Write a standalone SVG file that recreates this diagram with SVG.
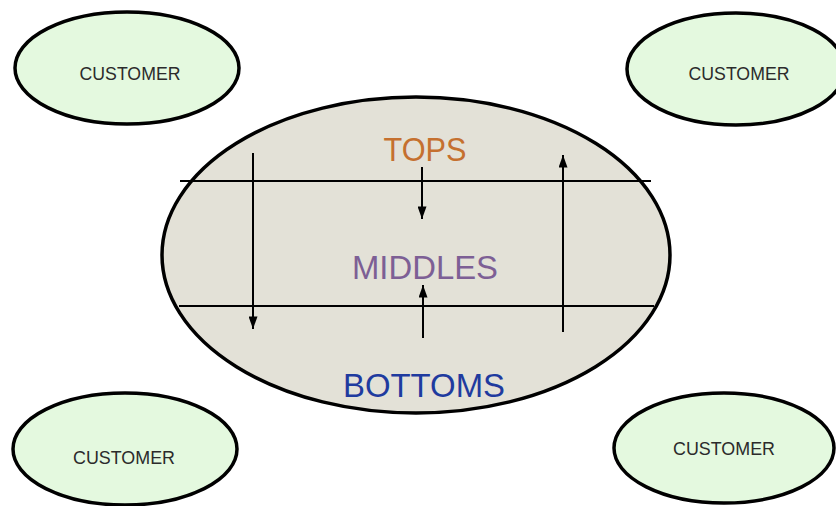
<svg xmlns="http://www.w3.org/2000/svg" width="836" height="506" viewBox="0 0 836 506">
<style>
.cust{fill:#e4f9df;stroke:#000;stroke-width:3.5}
.ctext{font-family:"Liberation Sans",Arial,sans-serif;font-size:18px;fill:#2b2b2b;text-anchor:middle}
.big{font-family:"Liberation Sans",Arial,sans-serif;font-size:33px;text-anchor:middle}
.ln{stroke:#000;stroke-width:2;fill:none}
</style>
<defs>
<marker id="ah" viewBox="0 0 14 10" refX="14" refY="5" markerWidth="13" markerHeight="9" markerUnits="userSpaceOnUse" orient="auto">
<path d="M0,0 L14,5 L0,10 z" fill="#000"/>
</marker>
</defs>
<rect width="836" height="506" fill="#fff"/>
<g id="org">
<ellipse cx="416" cy="255" rx="254" ry="158" fill="#e3e1d7" stroke="#000" stroke-width="3.5"/>
</g>
<g id="connectors">
<line class="ln" x1="180" y1="181" x2="651" y2="181"/>
<line class="ln" x1="179" y1="306" x2="654" y2="306"/>
<line class="ln" x1="253" y1="153" x2="253" y2="329" marker-end="url(#ah)"/>
<line class="ln" x1="422" y1="167" x2="422" y2="219" marker-end="url(#ah)"/>
<line class="ln" x1="423" y1="338" x2="423" y2="285" marker-end="url(#ah)"/>
<line class="ln" x1="563" y1="332" x2="563" y2="155" marker-end="url(#ah)"/>
</g>
<g id="tops"><text class="big" x="425" y="161" fill="#c5702f" textLength="83" lengthAdjust="spacingAndGlyphs">TOPS</text></g>
<g id="middles"><text class="big" x="425" y="279" fill="#7d5f95" textLength="146" lengthAdjust="spacingAndGlyphs">MIDDLES</text></g>
<g id="bottoms"><text class="big" x="424" y="397" fill="#1f3b9f" textLength="162" lengthAdjust="spacingAndGlyphs">BOTTOMS</text></g>
<g id="customer-tl">
<ellipse class="cust" cx="127" cy="68" rx="112" ry="56"/>
<text class="ctext" x="130" y="80" textLength="101" lengthAdjust="spacingAndGlyphs">CUSTOMER</text>
</g>
<g id="customer-tr">
<ellipse class="cust" cx="736" cy="69" rx="109" ry="56"/>
<text class="ctext" x="739" y="80" textLength="101" lengthAdjust="spacingAndGlyphs">CUSTOMER</text>
</g>
<g id="customer-bl">
<ellipse class="cust" cx="125" cy="449" rx="112" ry="56"/>
<text class="ctext" x="124" y="464" textLength="102" lengthAdjust="spacingAndGlyphs">CUSTOMER</text>
</g>
<g id="customer-br">
<ellipse class="cust" cx="724" cy="448" rx="110" ry="55"/>
<text class="ctext" x="724" y="455" textLength="102" lengthAdjust="spacingAndGlyphs">CUSTOMER</text>
</g>
</svg>
